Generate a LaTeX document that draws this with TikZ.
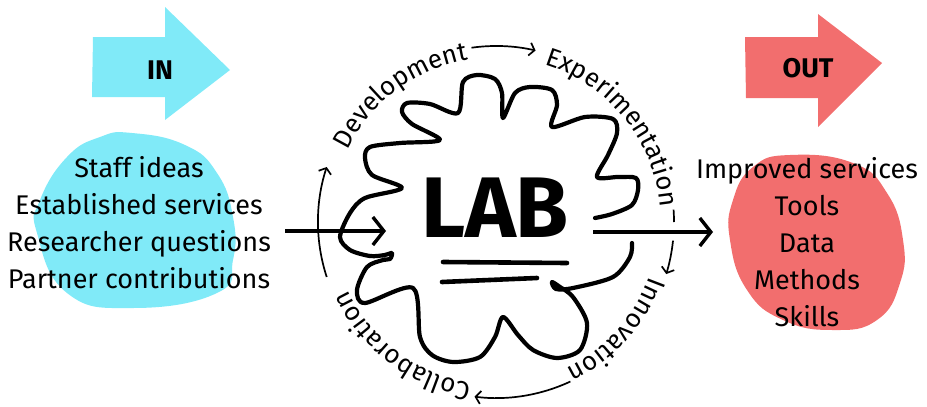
\documentclass[tikz,border=0pt]{standalone}
\usepackage{fontspec}
\setmainfont{Fira Sans}
\usetikzlibrary{arrows.meta,decorations.text}
\definecolor{incyan}{RGB}{128,234,248}
\definecolor{outred}{RGB}{242,110,110}

\begin{document}
\begin{tikzpicture}[x=1pt,y=-1pt]
		\tikzstyle{every node}+=[inner sep=0pt]
		\tikzstyle{listtext}=[font=\fontsize{27}{37}\selectfont, align=center]
		\tikzstyle{flow}=[line width=3.4pt, -{Straight Barb[length=11pt,width=28pt,line width=3.4pt]}]
		\tikzstyle{ringarrow}=[line width=1.7pt, -{Straight Barb[length=5pt,width=13pt,line width=1.7pt]}]
		\tikzstyle{cloudline}=[line width=4.2pt, line cap=round, line join=round]
		\tikzstyle{ringtext}=[decorate, decoration={text along path, text align=center, text format delimiters={|}{|}}]
		\useasboundingbox (0,0) rectangle (927,407);
		% in and out arrows
		\fill [incyan] (93,37) -- (165,37) -- (165,7) -- (230,70) -- (165,120) -- (165,97) -- (92,97) -- cycle;
		\node [font=\fontsize{27}{30}\selectfont\bfseries] (inlabel) at (160,70) {IN};
		\fill [outred] (745,37) -- (818,37) -- (818,14) -- (882,63) -- (818,127) -- (818,98) -- (746,98) -- cycle;
		\node [font=\fontsize{27}{30}\selectfont\bfseries] (outlabel) at (808,68) {OUT};
		% blobs
		\fill [incyan] plot [smooth cycle, tension=0.8] coordinates {(132,133) (185,145) (217,173) (233,217) (233,260) (217,293) (133,308) (67,293) (37,233) (40,200) (67,157) (100,137)};
		\fill [outred] plot [smooth cycle, tension=0.8] coordinates {(790,155) (853,163) (887,193) (903,240) (900,283) (877,320) (833,330) (783,320) (747,290) (730,240) (733,200) (753,167)};
		\node [listtext] (inlist) at (139,223) {Staff ideas\\Established services\\Researcher questions\\Partner contributions};
		\node [listtext] (outlist) at (807,242) {Improved services\\Tools\\Data\\Methods\\Skills};
		% the lab
		\draw [cloudline] plot [smooth, tension=0.5] coordinates {(595,218) (612,214) (632,205) (638,190) (636,178) (618,177) (597,177)
			(608,155) (617,133) (613,119) (585,117) (552,127)
			(557,105) (552,90) (530,87) (515,93) (503,118)
			(502,93) (495,79) (477,75) (463,82) (458,113)
			(430,104) (407,103) (402,112) (412,124) (440,140)
			(400,143) (370,147) (365,158) (372,175) (402,188)
			(365,198) (350,213) (340,237) (350,250) (370,256) (385,255) (392,253) (390,259) (383,260) (367,267) (357,290) (365,303) (413,288)
			(420,337) (432,355) (453,362) (480,357) (495,337) (503,317)
			(518,335) (533,350) (557,358) (580,350) (587,323) (573,297) (560,287) (552,282) (556,289) (573,288) (613,277) (630,257) (632,243)};
		\node [font=\fontsize{86}{90}\selectfont\bfseries] (lab) at (495,208) {LAB};
		\draw [cloudline, line width=4.6pt] (443,262) -- (567,263);
		\draw [cloudline, line width=4.6pt] (442,282) -- (537,278);
		\coordinate (inend) at (285,231);
		\coordinate (labin) at (386,231);
		\coordinate (labout) at (593,232);
		\coordinate (outend) at (713,232);
		\draw [flow] (inend) -- (labin);
		\draw [flow] (labout) -- (outend);
		% the cycle
		\coordinate (hub) at (496,222);
		\draw [ringarrow] (hub) ++(98:176pt) arc [start angle=98, end angle=77, radius=176pt];
		\draw [line width=1.7pt] (hub) ++(4:178pt) arc [start angle=4, end angle=0, radius=178pt];
		\draw [ringarrow] (hub) ++(-6:178pt) arc [start angle=-6, end angle=-17, radius=178pt];
		\draw [ringarrow] (hub) ++(-65:176pt) arc [start angle=-65, end angle=-97, radius=176pt];
		\draw [ringarrow] (hub) ++(198:178pt) arc [start angle=198, end angle=162, radius=178pt];
		\path [ringtext, decoration={text={|\fontsize{26}{30}\selectfont|Development}}] (hub) ++(167:165pt) arc [start angle=167, end angle=87, radius=165pt];
		\path [ringtext, decoration={text={|\fontsize{26}{30}\selectfont|Experimentation}}] (hub) ++(79:165pt) arc [start angle=79, end angle=-1, radius=165pt];
		\path [ringtext, decoration={text={|\fontsize{26}{30}\selectfont|Innovation}}] (hub) ++(-2:163pt) arc [start angle=-2, end angle=-82, radius=163pt];
		\path [ringtext, decoration={text={|\fontsize{26}{30}\selectfont|Collaboration}}] (hub) ++(-87:163pt) arc [start angle=-87, end angle=-167, radius=163pt];
	\end{tikzpicture}
\end{document}
